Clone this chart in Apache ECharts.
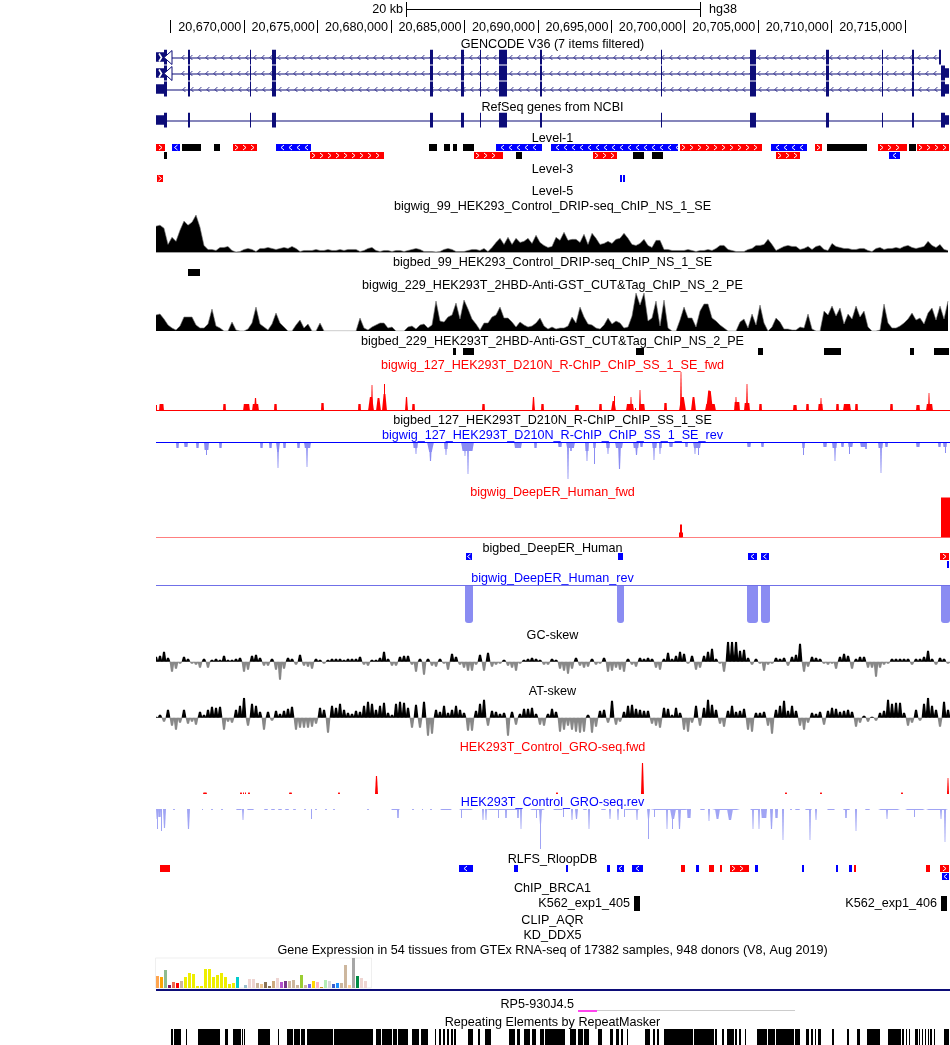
<!DOCTYPE html>
<html><head><meta charset="utf-8">
<style>html,body{margin:0;padding:0;background:#fff;overflow:hidden}#c{width:950px;height:1045px}</style>
<script src="https://cdn.jsdelivr.net/npm/echarts@6/dist/echarts.min.js"></script>
</head><body><div id="c"></div>
<script>
// All genomic positions are in kb past chr20:20,000,000 (hg38).
const windowStart = 664.03, windowEnd = 718.08, denseStep = 0.2723;
const tickKb = [665,670,675,680,685,690,695,700,705,710,715];
const tickLabels = ['','20,670,000','20,675,000','20,680,000','20,685,000','20,690,000','20,695,000','20,700,000','20,705,000','20,710,000','20,715,000'];
const scaleBarKb = [681.05,701.05];

const labelTexts = ['GENCODE V36 (7 items filtered)','RefSeq genes from NCBI','Level-1','Level-3','Level-5',
'bigwig_99_HEK293_Control_DRIP-seq_ChIP_NS_1_SE','bigbed_99_HEK293_Control_DRIP-seq_ChIP_NS_1_SE',
'bigwig_229_HEK293T_2HBD-Anti-GST_CUT&Tag_ChIP_NS_2_PE','bigbed_229_HEK293T_2HBD-Anti-GST_CUT&Tag_ChIP_NS_2_PE',
'bigwig_127_HEK293T_D210N_R-ChIP_ChIP_SS_1_SE_fwd','bigbed_127_HEK293T_D210N_R-ChIP_ChIP_SS_1_SE','bigwig_127_HEK293T_D210N_R-ChIP_ChIP_SS_1_SE_rev',
'bigwig_DeepER_Human_fwd','bigbed_DeepER_Human','bigwig_DeepER_Human_rev','GC-skew','AT-skew',
'HEK293T_Control_GRO-seq.fwd','HEK293T_Control_GRO-seq.rev','RLFS_RloopDB','ChIP_BRCA1','CLIP_AQR','KD_DDX5',
'Gene Expression in 54 tissues from GTEx RNA-seq of 17382 samples, 948 donors (V8, Aug 2019)','Repeating Elements by RepeatMasker'];
const labelColors = {9:'#ff0000',11:'#0000ff',12:'#ff0000',14:'#0000ff',17:'#ff0000',18:'#0000ff'};

// gene models
const geneSpans = [[664.50,717.45,0],[664.50,717.47,1],[664.57,717.47,2]];
const refseqSpan = [[664.57,717.47,0]];
const sharedExons = [[664.57,664.76],[666.21,666.34],[670.43,670.48],[671.93,672.20],[682.68,682.89],[684.79,684.99],[686.08,686.13],[687.38,687.92],[690.17,690.29],[698.41,698.46],[704.46,704.87],[709.64,709.82],[713.45,713.50],[715.49,715.61]];
const firstTranscriptEnd = [717.35,717.45];
const lastExonTall = [717.47,717.74];
const lastExonUtr = [717.74,718.01];
const leftUtr = [664.03,664.57];
const tssTriangle = [664.44,665.12];

// [start, end, strand(1,-1,0), row, chevrons]
const level1 = [[664.03,664.64,1,0,1],[665.12,665.66,-1,0,1],[665.80,667.09,0,0,0],[667.97,668.38,0,0,0],[669.27,670.91,1,0,1],[672.20,674.58,-1,0,1],[682.61,683.16,0,0,0],[683.63,684.04,0,0,0],[684.25,684.52,0,0,0],[684.93,685.67,0,0,0],[687.17,690.31,-1,0,1],[690.92,699.57,-1,0,1],[699.70,705.28,1,0,1],[705.89,708.35,-1,0,1],[708.89,709.37,1,0,1],[709.71,712.43,0,0,0],[713.18,715.15,1,0,1],[715.29,715.76,0,0,0],[715.83,718.01,1,0,1],
[664.57,664.78,0,1,0],[674.51,679.55,1,1,1],[685.67,687.65,1,1,1],[688.54,688.95,0,1,0],[693.78,695.41,1,1,1],[696.50,697.24,0,1,0],[697.79,698.55,0,1,0],[706.23,707.87,1,1,1],[713.92,714.67,-1,1,1]];
const level3 = [[664.10,664.51,1,0,1],[695.61,695.75,-1,0,0],[695.82,695.95,-1,0,0]];
const bed99 = [[666.21,667.03,0,0,0]];
const bed229 = [[684.25,684.45,0,0,0],[684.93,685.67,0,0,0],[696.70,697.24,0,0,0],[705.01,705.35,0,0,0],[709.50,710.66,0,0,0],[715.35,715.62,0,0,0],[716.98,718.01,0,0,0]];
const bedDeepER = [[685.13,685.54,-1,0,1],[695.48,695.82,-1,0,0],[704.33,704.94,-1,0,1],[705.21,705.76,-1,0,1],[717.40,718.01,1,0,1],[717.88,718.01,-1,1,0]];
const rlfs = [[664.30,664.98,1,0,0],[684.65,685.61,-1,0,1],[688.40,688.67,-1,0,0],[691.94,692.07,-1,0,0],[694.73,694.93,-1,0,0],[695.41,695.89,-1,0,1],[696.43,697.18,-1,0,1],[699.77,700.04,1,0,0],[700.79,700.99,-1,0,0],[701.67,702.01,1,0,0],[702.42,702.56,1,0,0],[703.10,704.39,1,0,1],[704.80,705.01,-1,0,0],[708.00,708.14,-1,0,0],[710.32,710.45,-1,0,0],[711.20,711.41,-1,0,0],[711.54,711.68,1,0,0],[716.44,716.71,1,0,0],[717.40,718.01,1,0,1],[717.53,718.01,-1,1,1]];
const brca1 = [[696.57,696.97,0,0,0],[717.47,717.88,0,0,0]];
const brca1Names = ['K562_exp1_405','K562_exp1_406'];
const repeats = [[665.05,665.19],[665.26,665.73],[666.07,666.14],[666.89,668.38],[668.73,668.93],[669.27,669.82],[669.88,669.95],[670.02,670.09],[670.97,671.79],[672.34,672.40],[672.95,673.36],[673.42,673.83],[673.90,674.17],[674.31,676.08],[676.15,678.80],[679.01,679.35],[679.42,680.10],[680.16,680.44],[680.50,681.18],[681.46,681.93],[682.07,682.55],[683.02,683.09],[683.29,683.43],[683.56,683.70],[683.84,683.97],[684.11,684.25],[684.31,684.45],[685.27,685.61],[685.95,686.08],[686.42,686.83],[688.06,688.47],[688.60,688.81],[689.08,689.49],[689.63,689.90],[690.17,690.44],[690.51,691.87],[692.21,692.62],[692.76,693.10],[693.17,693.50],[694.12,694.39],[694.93,695.14],[695.34,695.55],[695.68,695.82],[696.09,696.16],[697.32,697.66],[697.86,697.99],[698.14,698.27],[698.61,700.58],[700.65,702.01],[702.08,702.22],[702.56,702.69],[702.90,703.37],[703.44,703.58],[703.71,703.85],[704.12,704.19],[704.94,705.62],[705.69,706.16],[706.23,707.46],[707.53,707.87],[708.28,708.48],[708.62,708.76],[708.89,708.96],[709.09,709.30],[710.05,710.18],[711.07,711.20],[711.75,711.95],[712.43,713.31],[713.86,714.74],[714.81,714.95],[715.08,715.15],[715.29,715.35],[715.69,715.90],[715.97,716.03],[716.17,716.24],[716.37,716.44],[716.58,716.65],[716.71,716.85],[716.98,717.05],[717.67,718.01]];

// dense signal, one value every denseStep kb from windowStart
const dripLeft = [26,27,24,8,15,11,22,31,27,30,37,25,7,3,3,2,5,5,6,2,0.5,1,3,4,3,1,4,4,5,4,3,4,5,4,6,4,1,2,2,2,3,2,2,3,2,2,3,2,3,3,3,1,2,4,5,2,1,2,2,1,2,2,1,2,3,4,3,1,1,1,0.5,1,3,4,3,1,1,1,2,3,3,2,4,1,5,10,14,8,15,8,14,10,11,14,9,17,10,7,5];
const dripRight = [6,15,12,20,12,13,13,10,18,8,19,14,8,9,11,9,13,14,19,14,8,7,9,13,7,5,12,12,3,3,2,2,2,2,3,2,1,2,2,3,2,4,7,7,3,2,1,1,1,3,4,7,7,8,13,8,2,4,6,7,6,6,3,4,6,3,6,7,3,2,9,6,5,4,4,3,3,4,4,2,1,4,5,3,4,4,5,4,6,7,5,4,5,6,11,7,5,8,3,2];
const cutLeft = [16,17,12,6,3,1,5,14,14,14,6,3,3,7,22,5,3,0,0,9,1,0,0,2,8,24,7,4,1,7,18,8,4,0,0,6,11,3,7,0,0,8,0,0,0,0,0,0,0,0,0,13,3,1,4,6,8,8,3,4,0,0,0,4,5,2,6,7,3,6,30,10,9,14,16,28,12,31,22,12,7,1,8,8,14,16,24,13,13,9,4,9,6,4,5,8,13,5,2];
const cutRight = [4,2,3,3,5,14,8,24,14,7,6,3,2,6,13,7,10,8,3,4,15,38,26,38,10,13,30,5,31,3,0,0,11,24,13,13,4,20,27,27,13,10,6,3,0,0,0,9,12,3,17,6,26,8,0,4,13,9,2,2,1,1,4,3,17,2,0,0,20,16,25,15,23,7,17,12,25,14,20,4,0,0,1,27,8,3,3,5,8,12,18,11,13,7,18,23,11,25,12,30];
const gcLeft = [5,6,10,4,-10,-7,-2,5,3,-2,-3,-6,3,-6,2,3,2,6,2,2,3,4,-10,-8,6,7,4,-4,-4,3,-8,-18,-7,4,3,-3,7,-4,-5,-7,3,2,-2,2,3,3,3,2,3,3,3,5,-3,-4,2,2,4,10,3,-4,-4,5,6,6,-3,-10,3,-13,3,-4,-5,3,-2,-8,8,5,-3,-6,-9,-9,-3,7,-9,9,-5,-3,-2,2,-4,-6,-9,-2,2,3,4,3,2,-3,-3];
const gcRight = [3,2,-7,-9,-12,-7,4,-4,-6,-5,3,-3,-2,4,-10,-9,-6,-8,-10,3,-3,-5,4,3,4,3,-6,-8,3,9,3,6,10,8,-2,6,-8,-6,6,10,13,3,-2,-10,20,20,20,11,12,4,-3,3,-2,-9,-3,-2,4,3,4,-4,5,7,18,-10,-5,5,4,3,-2,-3,-2,-7,5,8,6,-7,3,5,5,-6,-6,-15,-6,-3,-2,3,3,3,3,3,-3,3,3,5,11,3,-3,4,3,-2];
const atLeft = [1,3,-4,8,-8,-12,-5,8,-6,-4,-7,6,3,8,11,10,11,-12,-4,-5,8,12,20,-8,14,12,6,-12,6,-3,7,4,7,9,11,-12,-10,-10,-10,-9,-6,10,8,-15,12,10,14,8,5,4,7,6,12,16,14,8,12,15,5,3,14,16,15,10,-10,13,-10,16,-18,-16,8,6,12,5,8,12,8,5,-13,-13,7,14,18,-8,7,6,4,5,-18,6,-7,4,9,9,10,4,-7,-8,4];
const atRight = [9,6,-14,-12,-8,-12,-14,-15,-14,3,-15,-9,7,8,-5,17,-7,-4,6,12,13,9,8,7,7,-6,-8,-10,10,9,3,10,5,-12,-14,-5,12,-8,10,18,13,8,-6,-9,7,12,6,7,9,-12,-14,5,5,6,-8,-16,8,12,17,7,12,7,-8,-12,-5,5,4,6,-7,7,10,9,6,7,8,6,-9,-5,2,-4,1,-3,5,7,18,14,15,15,5,-8,-5,8,-3,14,20,12,8,-9,16,8];

// sparse signal peaks: [start, end, height]
const rchipFwd = [[664.03,664.10,6],[664.23,664.57,7],[668.59,668.79,7],[669.95,670.43,7],[670.57,671.04,7],[670.70,670.91,13],[672.06,672.27,7],[675.26,675.46,8],[677.78,677.99,7],[678.46,678.87,14],[678.67,678.80,26],[679.01,679.35,13],[679.42,679.75,17],[679.55,679.62,27],[680.98,681.18,14],[681.46,681.66,7],[686.22,686.42,7],[689.63,689.84,14],[690.24,690.44,7],[692.55,692.82,6],[694.19,694.39,7],[695.00,695.34,10],[695.21,695.27,15],[696.02,696.57,7],[696.30,696.43,14],[696.63,696.70,3],[696.91,697.32,7],[696.91,697.05,21],[698.61,698.82,8],[699.63,700.11,14],[699.70,699.84,39],[700.45,700.79,14],[701.40,702.15,7],[701.47,701.95,20],[701.60,701.74,21],[703.37,703.78,9],[703.44,703.58,14],[704.06,704.46,8],[704.19,704.33,27],[705.08,705.28,7],[707.39,707.66,6],[708.28,708.48,7],[709.09,709.44,7],[709.23,709.37,13],[710.32,710.52,7],[710.79,711.34,7],[711.61,711.82,7],[713.99,714.19,7],[715.76,716.03,6],[716.44,716.91,7],[716.58,716.71,18]];
const rchipRev = [[665.39,665.60,6],[665.94,666.21,5],[666.75,666.96,6],[667.30,667.64,8],[667.43,667.50,13],[668.32,668.52,6],[671.11,671.31,6],[671.72,671.93,6],[672.20,672.47,10],[672.27,672.40,26],[672.68,672.88,6],[673.63,673.83,6],[674.10,674.58,6],[674.24,674.38,25],[681.52,681.86,6],[681.66,681.80,12],[682.48,682.95,10],[682.61,682.82,19],[683.63,683.91,7],[683.70,683.84,13],[684.79,685.67,9],[684.99,685.13,14],[685.20,685.34,32],[688.40,688.95,6],[689.76,689.97,6],[691.39,691.67,5],[691.94,692.55,6],[692.01,692.14,37],[692.21,692.35,9],[693.23,693.50,9],[693.30,693.44,19],[693.78,693.98,6],[693.85,693.91,22],[694.66,694.93,6],[694.73,694.87,12],[695.27,695.82,6],[695.48,695.68,27],[696.50,696.91,6],[696.63,696.84,13],[696.97,697.18,5],[697.79,698.14,6],[697.86,697.99,18],[698.27,698.48,6],[698.27,698.41,12],[698.95,699.22,5],[700.04,700.24,5],[700.58,701.13,6],[700.65,700.79,12],[700.92,700.99,13],[704.26,704.53,5],[705.21,705.42,5],[708.00,708.21,6],[708.07,708.14,13],[709.44,709.71,5],[710.05,710.39,6],[710.18,710.32,19],[710.66,710.86,5],[711.14,711.48,5],[711.20,711.27,12],[711.95,712.43,5],[712.29,712.43,7],[713.18,713.52,6],[713.31,713.45,31],[713.65,713.86,5],[715.76,716.03,5],[717.26,717.47,5],[717.60,717.88,5],[717.74,717.81,11]];
const deepFwd = [[699.63,699.90,5],[699.70,699.84,13],[717.47,718.08,40]];
const deepRev = [[685.06,685.60,38],[695.41,695.89,38],[704.26,705.01,38],[705.21,705.82,38],[717.47,718.08,38]];
const groFwd = [[667.23,667.50,1.5],[669.75,669.88,1.5],[669.95,670.02,1.5],[670.09,670.16,1.5],[670.29,670.43,1.5],[673.08,673.29,1.5],[676.42,676.55,1.5],[678.94,679.14,18],[691.26,691.39,1.5],[697.05,697.25,31],[706.84,706.98,1.5],[709.23,709.37,1.5],[714.74,714.88,1.5],[717.88,718.01,16]];
const groRev = [[665.19,665.32,1],[667.16,667.23,1],[667.77,667.91,1],[668.45,668.59,1],[669.48,669.88,1],[670.22,670.70,1],[671.38,671.65,1],[671.86,672.13,1],[672.34,672.61,1],[672.81,673.08,1],[673.36,673.56,1],[674.10,674.24,1],[674.85,674.99,1],[675.53,675.67,1],[676.08,676.21,1],[678.39,678.53,1],[680.03,680.64,1],[681.46,681.59,1],[682.14,682.21,1],[682.68,682.82,1],[683.36,684.18,1],[684.65,685.61,1],[686.42,688.95,1],[689.49,690.51,1],[691.05,691.74,1],[693.10,693.37,1],[694.32,694.66,1],[695.89,696.97,1],[697.66,700.38,1],[701.06,701.40,1],[701.88,703.78,1],[704.46,705.14,1],[707.19,707.32,1],[707.53,707.87,1],[708.21,708.69,1],[709.71,710.25,1],[710.79,711.27,1],[712.29,712.63,1],[713.18,714.67,1],[715.01,716.37,1],[716.44,717.94,1],
[664.03,664.17,10],[664.10,664.17,20],[664.17,664.37,8],[664.37,664.44,22],[664.51,664.71,19],[666.14,666.34,20],[669.88,670.02,11],[674.58,674.65,10],[680.44,680.58,9],[684.79,684.86,9],[686.22,686.36,11],[686.42,686.56,11],[687.31,687.38,9],[687.79,687.92,9],[688.60,688.74,9],[688.81,688.95,20],[689.90,689.97,9],[690.10,690.31,15],[690.17,690.24,40],[691.74,691.81,8],[692.28,692.42,11],[692.55,692.76,10],[693.44,693.57,20],[694.87,695.00,10],[695.41,695.55,11],[695.89,695.96,8],[696.70,696.84,11],[697.45,697.66,10],[697.52,697.59,30],[697.92,697.99,8],[698.75,698.88,20],[699.02,699.43,10],[699.15,699.22,20],[699.56,699.77,20],[700.18,700.45,9],[701.60,701.74,12],[702.08,702.42,10],[702.90,703.31,11],[704.60,704.73,20],[705.01,705.14,20],[705.21,705.62,9],[705.82,706.03,20],[706.16,706.37,9],[706.64,706.78,31],[708.48,708.62,31],[708.89,709.03,11],[710.93,711.07,9],[711.61,711.75,22],[713.72,713.86,10],[715.62,715.69,8],[717.40,717.53,10],[717.67,717.81,33]];

// GTEx
const gtexTissues = ['Adipose - Subcutaneous','Adipose - Visceral','Adrenal Gland','Artery - Aorta','Artery - Coronary','Artery - Tibial','Bladder','Brain - Amygdala','Brain - Anterior cingulate','Brain - Caudate','Brain - Cerebellar Hemisphere','Brain - Cerebellum','Brain - Cortex','Brain - Frontal Cortex','Brain - Hippocampus','Brain - Hypothalamus','Brain - Nucleus accumbens','Brain - Putamen','Brain - Spinal cord','Brain - Substantia nigra','Breast','Cells - EBV lymphocytes','Cells - Fibroblasts','Cervix - Ectocervix','Cervix - Endocervix','Colon - Sigmoid','Colon - Transverse','Esophagus - GE Junction','Esophagus - Mucosa','Esophagus - Muscularis','Fallopian Tube','Heart - Atrial Appendage','Heart - Left Ventricle','Kidney - Cortex','Kidney - Medulla','Liver','Lung','Minor Salivary Gland','Muscle - Skeletal','Nerve - Tibial','Ovary','Pancreas','Pituitary','Prostate','Skin - Not Sun Exposed','Skin - Sun Exposed','Small Intestine','Spleen','Stomach','Testis','Thyroid','Uterus','Vagina','Whole Blood'];
const gtexValues = [12,11,18,3,6,5,7,11,15,14,2,2,19,19,11,13,15,11,4,5,11,0.3,3,9,9,5,4,6,2,7,10,6,7,7,8,3,13,3,4,7,6,1,8,7,4,5,5,23,3,30,12,10,7,0.3];
const gtexColors = ['#FFA54F','#FFA500','#8FBC8F','#8B1C62','#EE6A50','#FF0000','#CDB79E','#EEEE00','#EEEE00','#EEEE00','#EEEE00','#EEEE00','#EEEE00','#EEEE00','#EEEE00','#EEEE00','#EEEE00','#EEEE00','#EEEE00','#EEEE00','#00CDCD','#EEEEEE','#9AC0CD','#EED5D2','#EED5D2','#CDB79E','#EEC591','#8B7355','#8B7355','#CDAA7D','#EED5D2','#B452CD','#7A378B','#CDB79E','#CDB79E','#CDB79E','#9ACD32','#CDB79E','#7A67EE','#FFD700','#FFB6C1','#CD9B1D','#B4EEB4','#D9D9D9','#3A5FCD','#1E90FF','#CDB79E','#CDB79E','#FFD39B','#A6A6A6','#008B45','#EED5D2','#EED5D2','#EEEEEE'];
const gtexGeneSpan = [[664.03,718.08]];
const rp5Span = [[692.76,707.53]];
const rp5Coding = [[692.76,694.05]];

// ---------- drawing ----------
const FONT = '"Liberation Sans",Arial,sans-serif', FS = 12.6;
const NAVY='#0c0c78', RED='#ff0000', BLUE='#0000ff', PERI='#8a8cf2', PERI2='#a0a4f4';
const grids=[], xAxes=[], yAxes=[], series=[];
function track(top,height,yMin,yMax,inverse){
  grids.push({left:156,width:794,top,height,containLabel:false,show:false});
  const i=grids.length-1;
  xAxes.push({type:'value',gridIndex:i,min:windowStart,max:windowEnd,show:false});
  yAxes.push({type:'value',gridIndex:i,min:yMin,max:yMax,inverse:!!inverse,show:false});
  return i;
}
function custom(i,data,renderItem,z){
  series.push({type:'custom',xAxisIndex:i,yAxisIndex:i,data,renderItem,clip:true,silent:true,z:z||2,animation:false});
}
function chevrons(x0,x1,cy,dir,color,w,half,lw){
  const out=[];
  const start = (x1-x0)<=13 ? (x0+x1)/2+dir*w/2 : x0+5;
  for(let x=start;x<x1-1;x+=8){
    out.push({type:'polyline',shape:{points:[[x-dir*w,cy-half],[x,cy],[x-dir*w,cy+half]]},style:{fill:null,stroke:color,lineWidth:lw}});
  }
  return out;
}
const stranded={'1':RED,'-1':BLUE,'0':'#000'};
function intervalRender(p,api){
  const a=api.coord([api.value(0),api.value(3)]), b=api.coord([api.value(1),api.value(3)+1]);
  const x=Math.round(a[0]), w=Math.max(1,Math.round(b[0])-x), h=b[1]-a[1]-1;
  const st=api.value(2);
  const kids=[{type:'rect',shape:{x,y:a[1],width:w,height:h},style:{fill:stranded[st]}}];
  if(api.value(4)) kids.push(...chevrons(x,x+w,a[1]+h/2,st,'#fff',3,2.5,1));
  return {type:'group',children:kids};
}
function peakRender(color,radius){
  return function(p,api){
    const a=api.coord([api.value(0),0]), b=api.coord([api.value(1),api.value(2)]);
    const x=Math.round(a[0]), w=Math.max(1,Math.round(b[0])-x);
    return {type:'rect',shape:{x,y:Math.min(a[1],b[1]),width:w,height:Math.abs(b[1]-a[1]),r:radius||0},style:{fill:color}};
  };
}
// peak narrowing toward its tip
function taperRender(color){
  return function(p,api){
    const a=api.coord([api.value(0),0]), b=api.coord([api.value(1),api.value(2)]);
    const x=Math.round(a[0]), w=Math.max(1,Math.round(b[0])-x), d=Math.abs(api.value(2));
    const inset=w<=1?0:w*(d>=10?0.32:0.12);
    return {type:'polygon',shape:{points:[[x,a[1]],[x+w,a[1]],[x+w-inset,b[1]],[x+inset,b[1]]]},style:{fill:color}};
  };
}
function spanLine(color,width,yVal){
  return function(p,api){
    const a=api.coord([api.value(0),yVal]), b=api.coord([api.value(1),yVal]);
    return {type:'rect',shape:{x:a[0],y:Math.round(a[1]-width/2),width:b[0]-a[0],height:width},style:{fill:color}};
  };
}
function toXY(vals){return vals.map((v,i)=>[+(windowStart+i*denseStep).toFixed(3),v]);}
function areaLine(i,xy,color,edge){
  series.push({type:'line',xAxisIndex:i,yAxisIndex:i,data:xy,showSymbol:false,symbol:'none',silent:true,animation:false,clip:true,
    lineStyle:{color:edge,width:0.6},areaStyle:{color,opacity:1,origin:0},z:2});
}
function skew(i,vals){
  custom(i,toXY(vals),function(p,api){
    const v=api.value(1), a=api.coord([api.value(0),0]), b=api.coord([api.value(0),v]);
    const x=a[0];
    return {type:'polygon',shape:{points:[[x-2.4,a[1]],[x+2.4,a[1]],[x+1,b[1]],[x-1,b[1]]]},style:{fill:v>=0?'#000000':'#888888'}};
  });
}

// ruler
const ruler=track(0,35,0,35,true);
custom(ruler,tickKb.map((k,i)=>[k,i]),function(p,api){
  const c=api.coord([api.value(0),20]), d=api.coord([api.value(0),33]);
  return {type:'group',children:[
    {type:'rect',shape:{x:Math.round(c[0]),y:c[1],width:1,height:d[1]-c[1]},style:{fill:'#000'}},
    {type:'text',style:{text:tickLabels[api.value(1)],x:c[0]-2.5,y:28,textAlign:'right',textVerticalAlign:'middle',font:FS+'px '+FONT,fill:'#000'}}
  ]};
});
custom(ruler,[scaleBarKb],function(p,api){
  const a=api.coord([api.value(0),9]), b=api.coord([api.value(1),9]);
  const ax=Math.round(a[0]),bx=Math.round(b[0]);
  return {type:'group',children:[
    {type:'rect',shape:{x:ax,y:9,width:bx-ax,height:1},style:{fill:'#000'}},
    {type:'rect',shape:{x:ax,y:2,width:1,height:15},style:{fill:'#000'}},
    {type:'rect',shape:{x:bx,y:2,width:1,height:15},style:{fill:'#000'}},
    {type:'text',style:{text:'20 kb',x:ax-3,y:9.5,textAlign:'right',textVerticalAlign:'middle',font:FS+'px '+FONT,fill:'#000'}},
    {type:'text',style:{text:'hg38',x:bx+9,y:9.5,textAlign:'left',textVerticalAlign:'middle',font:FS+'px '+FONT,fill:'#000'}}
  ]};
});

// genes
function geneRows(i,spans,rows,withChevrons,triangleRows){
  custom(i,spans,function(p,api){
    const a=api.coord([api.value(0),api.value(2)+0.5]), b=api.coord([api.value(1),api.value(2)+0.5]);
    const kids=[{type:'rect',shape:{x:a[0],y:Math.round(a[1])-0.5,width:b[0]-a[0],height:1},style:{fill:NAVY}}];
    if(withChevrons) kids.push(...chevrons(a[0]+14,b[0],a[1],-1,NAVY,2.5,2.5,0.8));
    return {type:'group',children:kids};
  });
  const exonItems=[];
  rows.forEach(r=>sharedExons.forEach(e=>exonItems.push([e[0],e[1],r,1])));
  rows.forEach((r,idx)=>{
    exonItems.push([leftUtr[0],leftUtr[1],r,0.62]);
    if(triangleRows && r===0){exonItems.push([firstTranscriptEnd[0],firstTranscriptEnd[1],r,1]);}
    else{exonItems.push([lastExonTall[0],lastExonTall[1],r,1]);exonItems.push([lastExonUtr[0],lastExonUtr[1],r,0.62]);}
  });
  custom(i,exonItems,function(p,api){
    const r=api.value(2), a=api.coord([api.value(0),r]), b=api.coord([api.value(1),r+1]);
    const full=b[1]-a[1]-1, h=full*api.value(3), x=Math.round(a[0]);
    return {type:'rect',shape:{x,y:a[1]+(full-h)/2,width:Math.max(1,Math.round(b[0])-x),height:h},style:{fill:NAVY}};
  },3);
  if(triangleRows){
    custom(i,triangleRows.map(r=>[tssTriangle[0],tssTriangle[1],r]),function(p,api){
      const r=api.value(2), a=api.coord([api.value(0),r+0.5]), b=api.coord([api.value(1),r+0.5]);
      return {type:'group',children:[
        {type:'polyline',shape:{points:[[a[0]-3,a[1]-4],[a[0]-0.5,a[1]],[a[0]-3,a[1]+4]]},style:{fill:null,stroke:'#fff',lineWidth:1.6}},
        {type:'polygon',shape:{points:[[b[0],a[1]-7],[a[0]+2,a[1]],[b[0],a[1]+7]]},style:{fill:'#fff',stroke:NAVY,lineWidth:1}}
      ]};
    },4);
  }
}
const gen=track(49.5,48,0,3,true);
geneRows(gen,geneSpans,[0,1,2],true,[0,1]);
const ref=track(112.5,16,0,1,true);
geneRows(ref,refseqSpan,[0],false,null);

// interval tracks
function beds(top,rows,data){const i=track(top,rows*8,0,rows,true);custom(i,data,intervalRender);return i;}
beds(144,2,level1);
beds(175,1,level3);
beds(269,1,bed99);
beds(348,1,bed229);
beds(553,2,bedDeepER);
beds(865,2,rlfs);

// signal tracks
const drip=track(212,40.5,0,40);
areaLine(drip,toXY(dripLeft.concat(dripRight)),'#000000','#777777');
const cut=track(291,40,0,40);
areaLine(cut,toXY(cutLeft.concat(cutRight)),'#000000','#777777');

const rf=track(370,41,0,41);
custom(rf,rchipFwd,taperRender(RED));
custom(rf,[[windowStart,windowEnd]],spanLine(RED,1.5,0.6));
const rr=track(442,42,0,42,true);
custom(rr,rchipRev,taperRender(PERI));
custom(rr,[[windowStart,windowEnd]],spanLine(BLUE,1,0.5),3);
const df=track(497,40.5,0,40.5);
custom(df,deepFwd,peakRender(RED));
custom(df,[[windowStart,windowEnd]],spanLine(RED,1,0.5));
const dr=track(585,40,0,40,true);
custom(dr,deepRev,peakRender(PERI,[0,0,3,3]));
custom(dr,[[windowStart,windowEnd]],spanLine('#7070e8',1,0.5),3);

const gc=track(641.7,40,-20,20);
skew(gc,gcLeft.concat(gcRight));
const at=track(697.7,40,-20,20);
skew(at,atLeft.concat(atRight));

const gf=track(761,33,0,33);
custom(gf,groFwd,taperRender(RED));
const gr=track(809,42,0,42,true);
custom(gr,groRev,taperRender(PERI2));

// BRCA1 (named items)
const br=track(896,15,0,1,true);
custom(br,brca1,function(p,api){
  const a=api.coord([api.value(0),0]), b=api.coord([api.value(1),1]);
  return {type:'group',children:[
    {type:'rect',shape:{x:Math.round(a[0]),y:a[1],width:Math.round(b[0]-a[0]),height:b[1]-a[1]},style:{fill:'#000'}},
    {type:'text',style:{text:brca1Names[p.dataIndex],x:a[0]-4,y:(a[1]+b[1])/2,textAlign:'right',textVerticalAlign:'middle',font:FS+'px '+FONT,fill:'#000'}}
  ]};
});

// GTEx bars
grids.push({left:155.5,width:216,top:958,height:30,show:true,borderColor:'#efefef',borderWidth:1,backgroundColor:'#fff'});
const gx=grids.length-1;
xAxes.push({type:'category',gridIndex:gx,data:gtexTissues,show:false});
yAxes.push({type:'value',gridIndex:gx,min:0,max:30,show:false});
series.push({type:'bar',xAxisIndex:gx,yAxisIndex:gx,barWidth:3,silent:true,animation:false,
  data:gtexValues.map((v,i)=>({value:v,itemStyle:{color:gtexColors[i]}}))});
const nv=track(989,2,0,1);
custom(nv,gtexGeneSpan,spanLine(NAVY,2,0.5));

// RP5 transcript
const rp=track(1008,5,0,1);
custom(rp,rp5Span,spanLine('#cccccc',1,0.5));
custom(rp,rp5Coding,spanLine('#ff44ee',2,0.5),3);

// RepeatMasker
const rm=track(1029,16,0,1);
custom(rm,repeats,function(p,api){
  const a=api.coord([api.value(0),1]), b=api.coord([api.value(1),0]);
  const x=Math.round(a[0]);
  return {type:'rect',shape:{x,y:a[1],width:Math.max(1,Math.round(b[0])-x),height:b[1]-a[1]},style:{fill:'#000'}};
});

// track labels
const labelY=[44.5,107.5,138.5,169.5,191.5,206.5,262.5,285.5,341.5,365.5,420.5,435.5,492.5,548.5,578.5,635.5,691.5,747.5,802.5,859.5,888.5,920.5,935.5,950.5,1022.5];
const graphics=labelTexts.map((t,i)=>({type:'text',x:552.5,y:labelY[i],silent:true,
  style:{text:t,textAlign:'center',textVerticalAlign:'middle',font:FS+'px '+FONT,fill:labelColors[i]||'#000'}}));
graphics.push({type:'text',x:574,y:1004.5,silent:true,style:{text:'RP5-930J4.5',textAlign:'right',textVerticalAlign:'middle',font:FS+'px '+FONT,fill:'#000'}});

const chart=echarts.init(document.getElementById('c'),null,{renderer:'canvas',width:950,height:1045});
chart.setOption({animation:false,backgroundColor:'#fff',grid:grids,xAxis:xAxes,yAxis:yAxes,series,graphic:graphics});
</script></body></html>
